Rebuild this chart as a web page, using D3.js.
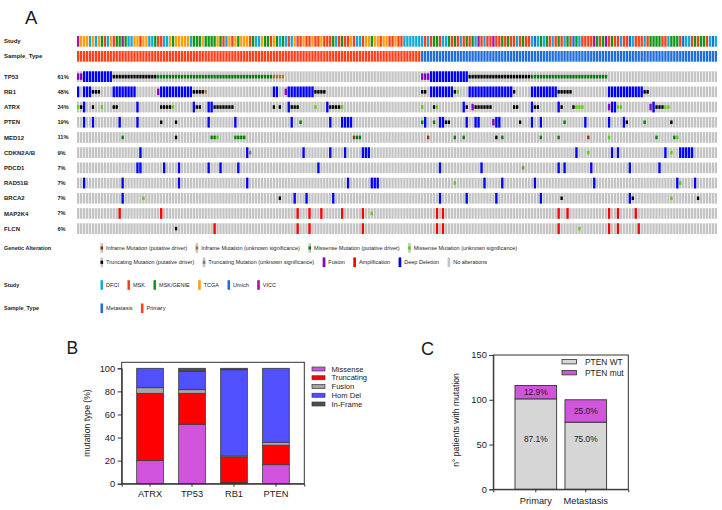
<!DOCTYPE html>
<html><head><meta charset="utf-8">
<script src="https://cdn.jsdelivr.net/npm/d3@7"></script>
<style>
body{margin:0;background:#fff}
svg{display:block}
text{font-family:"Liberation Sans",Arial,sans-serif;fill:#1a1a1a}
</style>
</head><body>
<svg id="c" width="722" height="510"></svg>
<script>
// ---------------- DATA: Panel A (oncoprint) ----------------
const genes = ["TP53","RB1","ATRX","PTEN","MED12","CDKN2A/B","PDCD1","RAD51B","BRCA2","MAP2K4","FLCN"];
const genePct = ["61%","48%","34%","19%","11%","9%","7%","7%","7%","7%","6%"];
// study per sample column (D=DFCI, M=MSK, G=MSK/GENIE, T=TCGA, U=Umich, V=VICC)
const studyCodes = [
  "VTTTDTDTGM","DTMGGVGDDT","TMTTDDGMMD","DTGTTTTTDG","GGTGGGGTGM","DTMTGTTTMG",
  "DDTGGMTGDG","DMDTMMTMMT","MMTMMMGDMG","MMTMDDMTTG","TTMTTMMT",
  "MMDDDDDDDM","DMGGMDDGMG","MDMGMGDVMD","MMVMMGMGMM","DMGMMDUDGD","GMDMGMDGMU",
  "GDMMMMVGMG","VMGMMDMMUD","MMMDMGGGGM","MDGGGMUDDM","GMGGMDUD"
];
const studyNames = ["DFCI","MSK","MSK/GENIE","TCGA","Umich","VICC"];
const studyKeys  = ["D","M","G","T","U","V"];
const sampleTypeCounts = [["Primary",116],["Metastasis",100]];
const sampleTypeLegend = ["Metastasis","Primary"];

// alteration segments per gene: [firstColumn, lastColumn, type]
// B deep deletion, A amplification, F fusion, T truncating (driver), t truncating (VUS),
// M missense (driver), m missense (VUS), I inframe (driver), i inframe (VUS)
const tp53 = [[0,1,"F"],[2,11,"B"],[12,26,"T"],[27,65,"M"],[66,69,"i"],[116,118,"F"],[119,131,"B"],[132,152,"T"],[153,178,"M"]];
const rb1 = [[0,0,"B"],[2,4,"B"],[5,7,"T"],[12,19,"B"],[27,27,"F"],[28,38,"B"],[39,42,"T"],[43,43,"i"],[66,67,"B"],[70,70,"F"],[71,79,"B"],[80,83,"T"],[116,117,"T"],[119,126,"B"],[127,127,"T"],[128,128,"m"],[132,146,"B"],[147,147,"T"],[153,161,"B"],[162,166,"T"],[179,190,"B"],[191,192,"T"]];
const atrx = [[0,0,"m"],[1,1,"T"],[2,2,"B"],[5,5,"T"],[8,8,"m"],[12,13,"T"],[20,20,"B"],[28,31,"T"],[32,32,"m"],[39,39,"B"],[40,41,"T"],[44,45,"B"],[46,52,"T"],[66,66,"T"],[68,68,"T"],[71,71,"B"],[72,74,"T"],[80,80,"m"],[84,84,"B"],[85,88,"T"],[89,89,"m"],[116,116,"m"],[120,120,"T"],[121,121,"m"],[130,130,"B"],[131,131,"T"],[133,133,"F"],[134,139,"T"],[147,148,"T"],[153,153,"B"],[154,155,"T"],[162,162,"B"],[163,163,"T"],[167,167,"T"],[168,170,"m"],[179,179,"F"],[180,181,"B"],[182,183,"m"],[193,193,"F"],[194,194,"B"],[195,197,"T"],[198,199,"m"]];
const pten = [[2,2,"B"],[5,5,"B"],[14,14,"B"],[20,20,"B"],[28,28,"T"],[33,33,"T"],[44,44,"B"],[53,53,"B"],[72,72,"B"],[75,75,"M"],[85,85,"B"],[89,92,"B"],[116,116,"M"],[117,117,"B"],[120,120,"M"],[122,123,"B"],[124,125,"T"],[131,131,"B"],[134,135,"B"],[140,140,"F"],[141,142,"B"],[149,149,"T"],[153,153,"B"],[156,156,"B"],[164,164,"M"],[171,171,"B"],[179,179,"B"],[184,184,"B"],[185,185,"T"],[191,191,"M"],[200,200,"T"]];
const med12 = [[15,15,"M"],[33,33,"T"],[45,46,"M"],[47,47,"m"],[53,56,"M"],[93,93,"I"],[94,95,"M"],[118,118,"I"],[127,127,"M"],[130,130,"M"],[141,141,"T"],[143,143,"M"],[156,156,"M"],[162,162,"M"],[172,172,"I"],[179,179,"m"],[195,195,"M"],[201,201,"M"],[202,202,"m"]];
const cdkn2ab = [[21,21,"B"],[57,57,"B"],[58,58,"t"],[76,76,"B"],[85,85,"B"],[90,90,"B"],[96,98,"B"],[168,168,"B"],[172,172,"m"],[180,180,"B"],[182,182,"B"],[198,198,"B"],[200,200,"m"],[203,207,"B"]];
const pdcd1 = [[20,21,"B"],[29,29,"B"],[34,34,"B"],[44,44,"B"],[48,48,"B"],[54,54,"B"],[81,81,"B"],[122,122,"B"],[136,136,"B"],[150,150,"i"],[162,162,"B"],[164,164,"B"],[173,173,"B"],[186,186,"B"],[196,196,"B"]];
const rad51b = [[2,2,"B"],[15,15,"B"],[34,34,"B"],[57,57,"B"],[91,91,"B"],[99,101,"B"],[127,127,"m"],[137,137,"B"],[143,143,"B"],[154,154,"B"],[174,174,"B"],[202,202,"B"],[203,203,"m"],[208,208,"B"]];
const brca2 = [[15,15,"B"],[22,22,"m"],[68,68,"T"],[73,73,"B"],[77,77,"B"],[86,86,"B"],[122,122,"B"],[131,131,"B"],[141,141,"B"],[156,156,"B"],[163,163,"T"],[186,186,"B"],[187,187,"T"],[200,200,"m"],[209,209,"T"]];
const map2k4 = [[14,14,"A"],[28,28,"A"],[74,74,"A"],[78,78,"A"],[82,82,"A"],[89,89,"A"],[96,96,"A"],[99,99,"m"],[121,121,"A"],[123,123,"A"],[162,162,"A"],[165,165,"A"],[179,179,"A"],[182,182,"A"],[188,188,"A"]];
const flcn = [[33,33,"T"],[46,46,"A"],[74,74,"A"],[78,78,"A"],[96,96,"A"],[121,121,"A"],[123,123,"A"],[162,162,"A"],[169,169,"m"],[179,179,"A"],[182,182,"A"],[189,189,"A"]];
const geneEvents = [tp53, rb1, atrx, pten, med12, cdkn2ab, pdcd1, rad51b, brca2, map2k4, flcn];

const legendRow1 = [["I","Inframe Mutation (putative driver)"],["i","Inframe Mutation (unknown significance)"],["M","Missense Mutation (putative driver)"],["m","Missense Mutation (unknown significance)"]];
const legendRow2 = [["T","Truncating Mutation (putative driver)"],["t","Truncating Mutation (unknown significance)"],["F","Fusion"],["A","Amplification"],["B","Deep Deletion"],["N","No alterations"]];

// ---------------- DATA: Panel B ----------------
const bGenes = ["ATRX","TP53","RB1","PTEN"];
const bTypes = ["Missense","Truncating","Fusion","Hom Del","In-Frame"];
const bMissense   = [20.0, 51.5, 1.0, 16.5];
const bTruncating = [58.3, 26.8, 21.9, 16.8];
const bFusion     = [4.9, 3.2, 1.1, 2.6];
const bHomDel     = [16.8, 15.9, 74.8, 64.1];
const bInFrame    = [0.0, 2.6, 1.2, 0.0];
const bTicks = [0,20,40,60,80,100];

// ---------------- DATA: Panel C ----------------
const cGroups = ["Primary","Metastasis"];
const cWT  = [101, 75];
const cMut = [15, 25];
const cTicks = [0,50,100,150];
const cSeries = ["PTEN WT","PTEN mut"];

// ---------------- STYLE ----------------
const altColor = {B:"#0000ff",A:"#ff0000",F:"#8b00c9",T:"#000000",t:"#708090",M:"#008000",m:"#53d400",I:"#993404",i:"#a68028",N:"#c4c4c4"};
const studyColor = {D:"#17a9d6",M:"#f4401c",G:"#109618",T:"#ff9e0d",U:"#1f6fd8",V:"#a3149f"};
const sampleColor = {Primary:"#ff4118",Metastasis:"#1f6fd8"};
const noAlt = "#c4c4c4";
const bColors = ["#d155dc","#ff0000","#a6a6a6","#5050ff","#4d4d4d"];
const cColors = ["#d6d6d6","#d155dc"];

const svg = d3.select("#c");

// ================= PANEL A =================
const study = studyCodes.join("").split("");
const N = study.length;
const sampleType = sampleTypeCounts.flatMap(([t,n]) => Array.from({length:n}, () => t));

const xCol = d3.scaleBand().domain(d3.range(N)).range([77,717]).paddingInner(0.22);
const yGene = d3.scaleBand().domain(genes).range([71.3,234]).paddingInner(0.296);
const bw = yGene.bandwidth();
const clinRows = [{name:"Study", y:36}, {name:"Sample_Type", y:51}];

svg.append("text").attr("x",25).attr("y",23.5).attr("font-size",18.5).text("A");

const gA = svg.append("g");
// clinical tracks
gA.append("g").selectAll("rect").data(study).join("rect")
  .attr("x",(d,i)=>xCol(i)).attr("y",clinRows[0].y).attr("width",xCol.bandwidth()).attr("height",bw)
  .attr("fill",d=>studyColor[d]);
gA.append("g").selectAll("rect").data(sampleType).join("rect")
  .attr("x",(d,i)=>xCol(i)).attr("y",clinRows[1].y).attr("width",xCol.bandwidth()).attr("height",bw)
  .attr("fill",d=>sampleColor[d]);
clinRows.forEach(r=>{
  gA.append("text").attr("x",4).attr("y",r.y+bw/2).attr("dy","0.35em")
    .attr("font-size",6).attr("font-weight","bold").text(r.name);
});

// gene tracks
genes.forEach((g,gi)=>{
  const y0 = yGene(g);
  const row = gA.append("g");
  row.selectAll("rect.bg").data(d3.range(N)).join("rect").attr("class","bg")
    .attr("x",i=>xCol(i)).attr("y",y0).attr("width",xCol.bandwidth()).attr("height",bw).attr("fill",noAlt);
  const cells = geneEvents[gi].flatMap(([s,e,t]) => d3.range(s,e+1).map(c=>({c,t})));
  row.selectAll("rect.alt").data(cells).join("rect").attr("class","alt")
    .attr("x",d=>xCol(d.c)).attr("width",xCol.bandwidth())
    .attr("y",d=> (d.t==="A"||d.t==="B") ? y0 : d.t==="F" ? y0+bw*0.2 : y0+bw/3)
    .attr("height",d=> (d.t==="A"||d.t==="B") ? bw : d.t==="F" ? bw*0.6 : bw/3)
    .attr("fill",d=>altColor[d.t]);
  gA.append("text").attr("x",4).attr("y",y0+bw/2).attr("dy","0.35em")
    .attr("font-size",6).attr("font-weight","bold").text(g);
  gA.append("text").attr("x",57.5).attr("y",y0+bw/2).attr("dy","0.35em")
    .attr("font-size",5.6).attr("font-weight","bold").text(genePct[gi]);
});

// legend
const lgSwW = 2.6, lgSwH = 9.6, lgX0 = 100.5, lgGap = 8.5;
function legendRow(items, yc, drawSwatch){
  let x = lgX0;
  items.forEach(it=>{
    drawSwatch(it, x, yc);
    const t = gA.append("text").attr("x",x+lgSwW+3).attr("y",yc).attr("dy","0.35em")
      .attr("font-size",5.5).text(it.label);
    x = x + lgSwW + 3 + t.node().getComputedTextLength() + lgGap;
  });
}
function altSwatch(it,x,yc){
  const t = it.key;
  gA.append("rect").attr("x",x).attr("y",yc-lgSwH/2).attr("width",lgSwW).attr("height",lgSwH).attr("fill",noAlt);
  if (t==="N") return;
  const full = (t==="A"||t==="B"||t==="F");
  gA.append("rect").attr("x",x).attr("width",lgSwW)
    .attr("y", full ? yc-lgSwH/2 : yc-lgSwH/6).attr("height", full ? lgSwH : lgSwH/3)
    .attr("fill",altColor[t]);
}
function solidSwatch(it,x,yc){
  gA.append("rect").attr("x",x).attr("y",yc-lgSwH/2).attr("width",lgSwW).attr("height",lgSwH).attr("fill",it.color);
}
const legHeads = [["Genetic Alteration",248],["Study",285],["Sample_Type",308.3]];
legHeads.forEach(([t,y])=>{
  gA.append("text").attr("x",4).attr("y",y).attr("dy","0.35em").attr("font-size",5.5).attr("font-weight","bold").text(t);
});
legendRow(legendRow1.map(([k,l])=>({key:k,label:l})), 248, altSwatch);
legendRow(legendRow2.map(([k,l])=>({key:k,label:l})), 262.3, altSwatch);
legendRow(studyNames.map((n,i)=>({label:n,color:studyColor[studyKeys[i]]})), 285, solidSwatch);
legendRow(sampleTypeLegend.map(n=>({label:n,color:sampleColor[n]})), 308.3, solidSwatch);

// ================= PANEL B =================
svg.append("text").attr("x",66.5).attr("y",354.3).attr("font-size",17.5).text("B");
const gB = svg.append("g");
const bx = d3.scaleBand().domain(bGenes).range([121.7,304.3]).paddingInner(0.364).paddingOuter(0.357);
const by = d3.scaleLinear().domain([0,100]).range([483.7,368.3]);
const bRows = bGenes.map((g,i)=>({gene:g, "Missense":bMissense[i], "Truncating":bTruncating[i], "Fusion":bFusion[i], "Hom Del":bHomDel[i], "In-Frame":bInFrame[i]}));
const bStack = d3.stack().keys(bTypes)(bRows);
bStack.forEach((layer,li)=>{
  gB.append("g").selectAll("rect").data(layer.filter(d=>d[1]-d[0]>0)).join("rect")
    .attr("x",d=>bx(d.data.gene)).attr("width",bx.bandwidth())
    .attr("y",d=>by(d[1])).attr("height",d=>by(d[0])-by(d[1]))
    .attr("fill",bColors[li]).attr("stroke","#3a3a3a").attr("stroke-width",0.8);
});
// frame
gB.append("rect").attr("x",121.7).attr("y",362.3).attr("width",182.6).attr("height",by(0)-362.3)
  .attr("fill","none").attr("stroke","#333").attr("stroke-width",1);
const bAxisL = gB.append("g").attr("transform","translate(121.7,0)")
  .call(d3.axisLeft(by).tickValues(bTicks).tickSize(4).tickPadding(2.5));
const bAxisB = gB.append("g").attr("transform",`translate(0,${by(0)})`)
  .call(d3.axisBottom(bx).tickSize(3).tickPadding(3.5));
[bAxisL,bAxisB].forEach(a=>{
  a.select(".domain").attr("stroke","#333");
  a.selectAll(".tick line").attr("stroke","#333");
  a.selectAll(".tick text").attr("font-size",9.3).attr("font-family","Liberation Sans, Arial, sans-serif").attr("fill","#1a1a1a");
});
gB.append("text").attr("transform","translate(90,423) rotate(-90)").attr("text-anchor","middle")
  .attr("font-size",8.6).text("mutation type (%)");
// legend B
bTypes.forEach((t,i)=>{
  const yc = 369 + i*8.75;
  gB.append("rect").attr("x",312).attr("y",yc-2).attr("width",13).attr("height",4)
    .attr("fill",bColors[i]).attr("stroke","#3a3a3a").attr("stroke-width",0.7);
  gB.append("text").attr("x",331.5).attr("y",yc).attr("dy","0.35em").attr("font-size",7.6).text(t);
});

// ================= PANEL C =================
svg.append("text").attr("x",421).attr("y",355.3).attr("font-size",18).text("C");
const gC = svg.append("g");
const cx = d3.scaleBand().domain(cGroups).range([493.3,628.3]).paddingInner(0.167).paddingOuter(0.434);
const cy = d3.scaleLinear().domain([0,150]).range([489.3,355]);
const cRows = cGroups.map((g,i)=>({group:g, "PTEN WT":cWT[i], "PTEN mut":cMut[i]}));
const cStack = d3.stack().keys(cSeries)(cRows);
cStack.forEach((layer,li)=>{
  const lg = gC.append("g");
  lg.selectAll("rect").data(layer).join("rect")
    .attr("x",d=>cx(d.data.group)).attr("width",cx.bandwidth())
    .attr("y",d=>cy(d[1])).attr("height",d=>cy(d[0])-cy(d[1]))
    .attr("fill",cColors[li]).attr("stroke","#333").attr("stroke-width",0.9);
  lg.selectAll("text").data(layer).join("text")
    .attr("x",d=>cx(d.data.group)+cx.bandwidth()/2)
    .attr("y",d=> li===0 ? cy(56) : cy((d[0]+d[1])/2))
    .attr("dy","0.35em").attr("text-anchor","middle").attr("font-size",8.4)
    .text(d=>((d[1]-d[0])/(d.data["PTEN WT"]+d.data["PTEN mut"])*100).toFixed(1)+"%");
});
gC.append("rect").attr("x",493.3).attr("y",355).attr("width",135).attr("height",134.3)
  .attr("fill","none").attr("stroke","#333").attr("stroke-width",1);
const cAxisL = gC.append("g").attr("transform","translate(493.3,0)")
  .call(d3.axisLeft(cy).tickValues(cTicks).tickSize(4).tickPadding(2.5));
const cAxisB = gC.append("g").attr("transform",`translate(0,${cy(0)})`)
  .call(d3.axisBottom(cx).tickSize(3).tickPadding(5.5));
[cAxisL,cAxisB].forEach(a=>{
  a.select(".domain").attr("stroke","#333");
  a.selectAll(".tick line").attr("stroke","#333");
  a.selectAll(".tick text").attr("font-size",9.3).attr("font-family","Liberation Sans, Arial, sans-serif").attr("fill","#1a1a1a");
});
gC.append("text").attr("transform","translate(459,420) rotate(-90)").attr("text-anchor","middle")
  .attr("font-size",8.6).text("n° patients with mutation");
cSeries.forEach((s,i)=>{
  const yc = 361.7 + i*11;
  gC.append("rect").attr("x",562).attr("y",yc-2.2).attr("width",14.5).attr("height",4.4)
    .attr("fill",cColors[i]).attr("stroke","#333").attr("stroke-width",0.8);
  gC.append("text").attr("x",585).attr("y",yc).attr("dy","0.35em").attr("font-size",8.4).text(s);
});
</script>
</body></html>
